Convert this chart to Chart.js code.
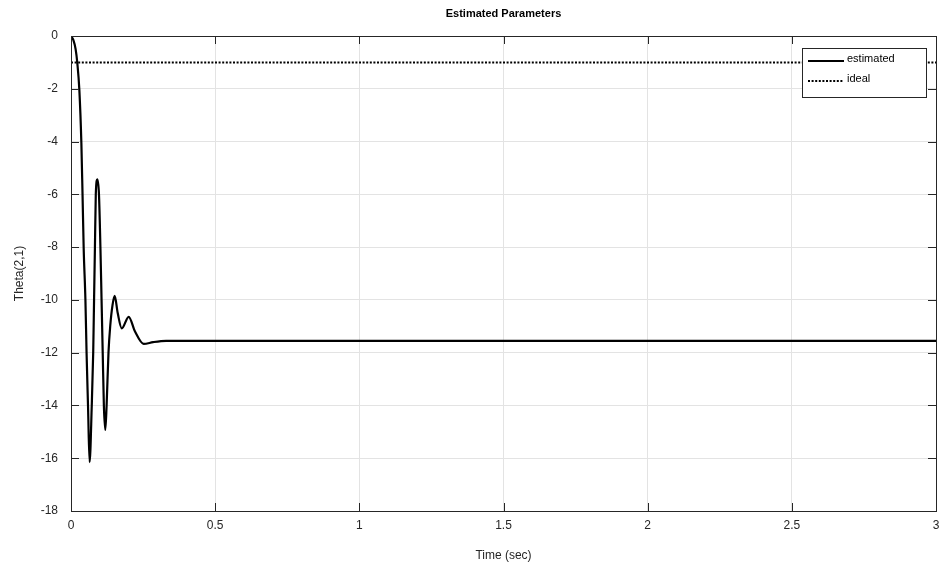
<!DOCTYPE html>
<html>
<head>
<meta charset="utf-8">
<script src="https://cdn.jsdelivr.net/npm/chart.js@4"></script>
<style>
  html, body { margin: 0; padding: 0; background: #fff; }
  #wrap { width: 942px; height: 567px; }
</style>
</head>
<body>
<div id="wrap"><canvas id="chart"></canvas></div>
<script>
// values
const timeSec = [0, 0.008, 0.016, 0.022, 0.029, 0.036, 0.040, 0.044, 0.050, 0.054, 0.059, 0.0645,
  0.072, 0.077, 0.080, 0.083, 0.086, 0.0915, 0.097, 0.102, 0.106, 0.110, 0.114, 0.119,
  0.1235, 0.130, 0.136, 0.144, 0.1515, 0.162, 0.176, 0.200, 0.222, 0.252, 0.285, 0.33, 3];
const thetaEst = [0, -0.15, -0.5, -1.04, -2.05, -4.07, -6.0, -8.05, -10.0, -12.0, -14.0, -16.15,
  -14.0, -12.0, -10.0, -8.0, -6.0, -5.43, -6.0, -8.0, -10.0, -12.0, -14.0, -14.93,
  -14.0, -12.0, -11.0, -10.2, -9.85, -10.5, -11.08, -10.64, -11.2, -11.67, -11.6, -11.55, -11.55];
const idealTime = [0, 3];
const idealTheta = [-1, -1];
const xTicks = [0, 0.5, 1, 1.5, 2, 2.5, 3];
const yTicks = [-18, -16, -14, -12, -10, -8, -6, -4, -2, 0];

const FONT = "'Liberation Sans', Arial, Helvetica, sans-serif";
const AXIS = "#262626";

const toPts = (xs, ys) => xs.map((x, i) => ({ x: x, y: ys[i] }));

// box, inward ticks, title and legend (MATLAB style)
const matlabDecor = {
  id: "matlabDecor",
  afterDraw(chart) {
    const { ctx, chartArea: a, scales } = chart;
    ctx.save();
    ctx.strokeStyle = AXIS;
    ctx.lineWidth = 1;
    ctx.beginPath();
    xTicks.forEach(v => {
      const px = Math.round(scales.x.getPixelForValue(v)) + 0.5;
      ctx.moveTo(px, a.bottom); ctx.lineTo(px, a.bottom - 8);
      ctx.moveTo(px, a.top); ctx.lineTo(px, a.top + 8);
    });
    yTicks.forEach(v => {
      const py = Math.round(scales.y.getPixelForValue(v)) + 0.5;
      ctx.moveTo(a.left, py); ctx.lineTo(a.left + 8, py);
      ctx.moveTo(a.right, py); ctx.lineTo(a.right - 8, py);
    });
    ctx.stroke();
    ctx.strokeRect(Math.round(a.left) + 0.5, Math.round(a.top) + 0.5,
      Math.round(a.right - a.left), Math.round(a.bottom - a.top));

    // title
    ctx.fillStyle = "#000";
    ctx.font = "bold 11px " + FONT;
    ctx.textAlign = "center";
    ctx.textBaseline = "middle";
    ctx.fillText("Estimated Parameters", (a.left + a.right) / 2, 14);

    // legend
    const lx = 802, ly = 48, lw = 124, lh = 49;
    ctx.fillStyle = "#fff";
    ctx.fillRect(lx, ly, lw, lh);
    ctx.strokeStyle = "#262626";
    ctx.strokeRect(lx + 0.5, ly + 0.5, lw, lh);
    const items = chart.data.datasets;
    ctx.font = "11px " + FONT;
    ctx.textAlign = "left";
    items.forEach((ds, i) => {
      const yy = ly + 13 + i * 20;
      ctx.beginPath();
      ctx.strokeStyle = "#000";
      ctx.lineWidth = ds.borderWidth;
      ctx.setLineDash(ds.borderDash || []);
      ctx.moveTo(808, yy); ctx.lineTo(844, yy);
      ctx.stroke();
      ctx.setLineDash([]);
      ctx.fillStyle = "#000";
      ctx.fillText(ds.label, 847, yy - 2);
    });
    ctx.restore();
  }
};

new Chart(document.getElementById("chart"), {
  type: "line",
  data: {
    datasets: [
      {
        label: "estimated",
        data: toPts(timeSec, thetaEst),
        borderColor: "#000",
        borderWidth: 2.2,
        pointRadius: 0,
        cubicInterpolationMode: "monotone"
      },
      {
        label: "ideal",
        data: toPts(idealTime, idealTheta),
        borderColor: "#000",
        borderWidth: 2,
        borderDash: [2, 1.6],
        pointRadius: 0
      }
    ]
  },
  options: {
    responsive: true,
    maintainAspectRatio: false,
    animation: false,
    layout: { padding: { top: 36, right: 6, left: 0, bottom: 0 } },
    plugins: {
      legend: { display: false },
      title: { display: false },
      tooltip: { enabled: false }
    },
    scales: {
      x: {
        type: "linear",
        min: 0,
        max: 3,
        afterBuildTicks: s => { s.ticks = xTicks.map(v => ({ value: v })); },
        afterFit: s => { s.height = 56; s.paddingLeft = 0; s.paddingRight = 0; },
        ticks: {
          padding: 7,
          color: AXIS,
          font: { family: FONT, size: 12 },
          maxRotation: 0,
          callback: v => String(v)
        },
        grid: { color: "#e3e3e3", drawTicks: false },
        border: { color: AXIS },
        title: {
          display: true,
          text: "Time (sec)",
          color: AXIS,
          font: { family: FONT, size: 12 },
          padding: { top: 10 }
        }
      },
      y: {
        min: -18,
        max: 0,
        afterBuildTicks: s => { s.ticks = yTicks.map(v => ({ value: v })); },
        afterFit: s => { s.width = 71; s.paddingTop = 0; s.paddingBottom = 0; },
        ticks: {
          padding: 13,
          color: AXIS,
          font: { family: FONT, size: 12 },
          callback: v => String(v)
        },
        grid: { color: "#e3e3e3", drawTicks: false },
        border: { color: AXIS },
        title: {
          display: true,
          text: "Theta(2,1)",
          color: AXIS,
          font: { family: FONT, size: 12 },
          padding: { top: 12, bottom: 2 }
        }
      }
    }
  },
  plugins: [matlabDecor]
});
</script>
</body>
</html>
